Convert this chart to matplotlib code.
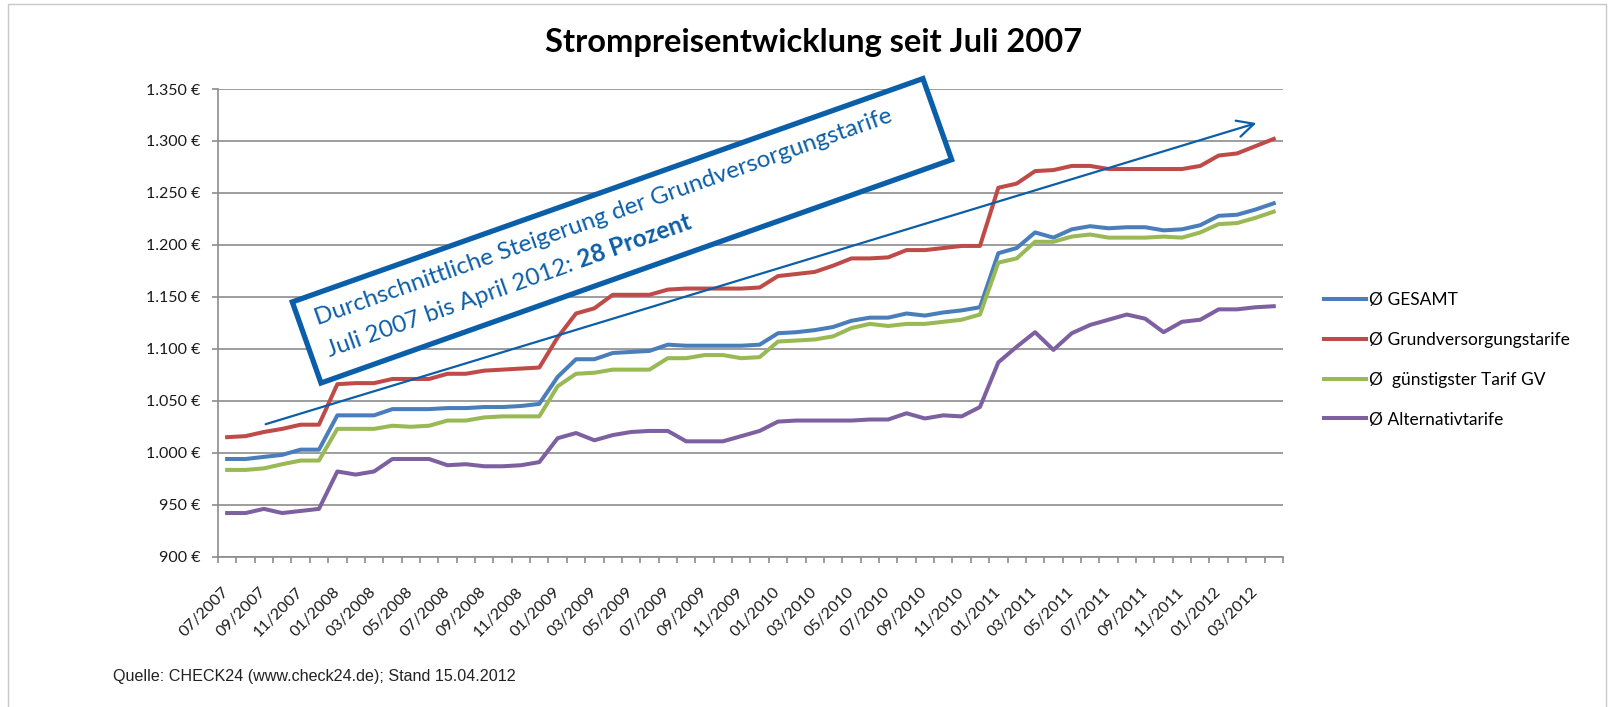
import matplotlib
matplotlib.use('Agg')
import matplotlib.pyplot as plt
from matplotlib.patches import Rectangle
from matplotlib.transforms import IdentityTransform
from matplotlib.ticker import FuncFormatter
import numpy as np

plt.rcParams['font.family'] = ['Lato', 'DejaVu Sans']

# monthly categories 07/2007 .. 04/2012
months = [f"{(6 + k) % 12 + 1:02d}/{2007 + (6 + k) // 12}" for k in range(58)]

# average prices in EUR
gesamt = [994, 994, 996, 998, 1003, 1003, 1036, 1036, 1036, 1042, 1042, 1042, 1043, 1043,
          1044, 1044, 1045, 1047, 1073, 1090, 1090, 1096, 1097, 1098, 1104, 1103, 1103, 1103,
          1103, 1104, 1115, 1116, 1118, 1121, 1127, 1130, 1130, 1134, 1132, 1135, 1137, 1140,
          1192, 1197, 1212, 1207, 1215, 1218, 1216, 1217, 1217, 1214, 1215, 1219, 1228, 1229,
          1234, 1240]
grundversorgung = [1015, 1016, 1020, 1023, 1027, 1027, 1066, 1067, 1067, 1071, 1071, 1071, 1076,
                   1076, 1079, 1080, 1081, 1082, 1111, 1134, 1139, 1152, 1152, 1152, 1157, 1158,
                   1158, 1158, 1158, 1159, 1170, 1172, 1174, 1180, 1187, 1187, 1188, 1195, 1195,
                   1197, 1199, 1199, 1255, 1259, 1271, 1272, 1276, 1276, 1273, 1273, 1273, 1273,
                   1273, 1276, 1286, 1288, 1295, 1302]
guenstigster = [983.5, 983.5, 985, 989, 992.5, 992.5, 1023, 1023, 1023, 1026, 1025, 1026, 1031,
                1031, 1034, 1035, 1035, 1035, 1064, 1076, 1077, 1080, 1080, 1080, 1091, 1091,
                1094, 1094, 1091, 1092, 1107, 1108, 1109, 1112, 1120, 1124, 1122, 1124, 1124,
                1126, 1128, 1133, 1183, 1187, 1203, 1203, 1208, 1210, 1207, 1207, 1207, 1208,
                1207, 1212, 1220, 1221, 1226, 1232]
alternativ = [942, 942, 946, 942, 944, 946, 982, 979, 982, 994, 994, 994, 988, 989, 987, 987,
              988, 991, 1014, 1019, 1012, 1017, 1020, 1021, 1021, 1011, 1011, 1011, 1016, 1021,
              1030, 1031, 1031, 1031, 1031, 1032, 1032, 1038, 1033, 1036, 1035, 1044, 1087, 1102,
              1116, 1099, 1115, 1123, 1128, 1133, 1129, 1116, 1126, 1128, 1138, 1138, 1140, 1141]

series = [
    ("Ø GESAMT", gesamt, "#4A7EBB"),
    ("Ø Grundversorgungstarife", grundversorgung, "#BE4B48"),
    ("Ø  günstigster Tarif GV", guenstigster, "#98B954"),
    ("Ø Alternativtarife", alternativ, "#7D60A0"),
]

grid_col = "#8C8C8C"
blue = "#0B5EA8"
W, H = 1617, 707

fig = plt.figure(figsize=(16.17, 7.07), dpi=100)
ax = fig.add_axes([0.1348, 0.2126, 0.6586, 0.6615])

x = np.arange(len(months))
for label, vals, col in series:
    ax.plot(x, vals, color=col, lw=2.9, label=label, solid_joinstyle='round', zorder=3)

ax.set_xlim(-0.5, len(months) - 0.5)
ax.set_ylim(900, 1350)
ax.set_yticks(np.arange(900, 1351, 50))
ax.yaxis.set_major_formatter(FuncFormatter(lambda v, _: f"{int(v):,}".replace(",", ".") + " €"))
ax.grid(axis='y', color=grid_col, lw=1.2, zorder=0)

ax.set_xticks(x[::2])
ax.set_xticklabels(months[::2], rotation=45, ha='right', va='center', rotation_mode='anchor')
ax.set_xticks(np.arange(-0.5, len(months), 1), minor=True)
ax.tick_params(axis='x', which='major', length=0, pad=24, labelsize=11.5, labelcolor='#1A1A1A')
ax.tick_params(axis='x', which='minor', length=4.5, color=grid_col, width=1.2)
ax.tick_params(axis='y', length=4.5, color=grid_col, width=1.2, pad=8, labelsize=11.5,
               labelcolor='#1A1A1A')

for side in ['top', 'right']:
    ax.spines[side].set_visible(False)
for side in ['left', 'bottom']:
    ax.spines[side].set_color(grid_col)
    ax.spines[side].set_linewidth(1.2)

fig.text(0.503, 0.94, "Strompreisentwicklung seit Juli 2007", ha='center', va='center',
         fontsize=23.5, fontweight='bold', color='black')

fig.legend(loc='center left', bbox_to_anchor=(0.8188, 0.491), frameon=False,
           fontsize=12.5, handlelength=2.4, handletextpad=0.2, labelspacing=1.37,
           borderpad=0, borderaxespad=0)

# trend arrow
ax.annotate("", xy=(56.2, 1318), xytext=(1.95, 1026.7),
            arrowprops=dict(arrowstyle="->,head_length=1.2,head_width=0.6", color=blue, lw=1.6),
            zorder=5)

# rotated callout box (pixel coordinates)
ang = 19.5
box = Rectangle((321, H - 383), 669, 86, angle=ang, transform=IdentityTransform(),
                facecolor='white', edgecolor=blue, lw=3.8, zorder=6)
fig.patches.append(box)
box_fs = 17.5
fig.text(318 / W, 1 - 325 / H, "Durchschnittliche Steigerung der Grundversorgungstarife",
         rotation=ang, rotation_mode='anchor', ha='left', va='baseline', fontsize=box_fs,
         color=blue, zorder=7)

# second line: regular part + bold part placed right after it
part1 = "Juli 2007 bis April 2012: "
x0, y0 = 330, H - 357
renderer = fig.canvas.get_renderer()
tmp = fig.text(0, 0, part1, fontsize=box_fs)
w1 = tmp.get_window_extent(renderer).width
tmp.remove()
fig.text(x0 / W, y0 / H, part1, rotation=ang, rotation_mode='anchor', ha='left',
         va='baseline', fontsize=box_fs, color=blue, zorder=7)
a = np.deg2rad(ang)
fig.text((x0 + w1 * np.cos(a)) / W, (y0 + w1 * np.sin(a)) / H, "28 Prozent", rotation=ang,
         rotation_mode='anchor', ha='left', va='baseline', fontsize=box_fs,
         fontweight='bold', color=blue, zorder=7)

fig.text(113 / W, 1 - 677 / H, "Quelle: CHECK24 (www.check24.de); Stand 15.04.2012",
         ha='left', va='center', fontsize=11.6, family=['Liberation Sans'], color='#222222')

frame = Rectangle((8 / W, -0.05), (1606 - 8) / W, 0.05 + 1 - 4 / H,
                  transform=fig.transFigure, fill=False, edgecolor='#C8C8C8', lw=1)
fig.patches.append(frame)

fig.savefig('out.png', dpi=100)
